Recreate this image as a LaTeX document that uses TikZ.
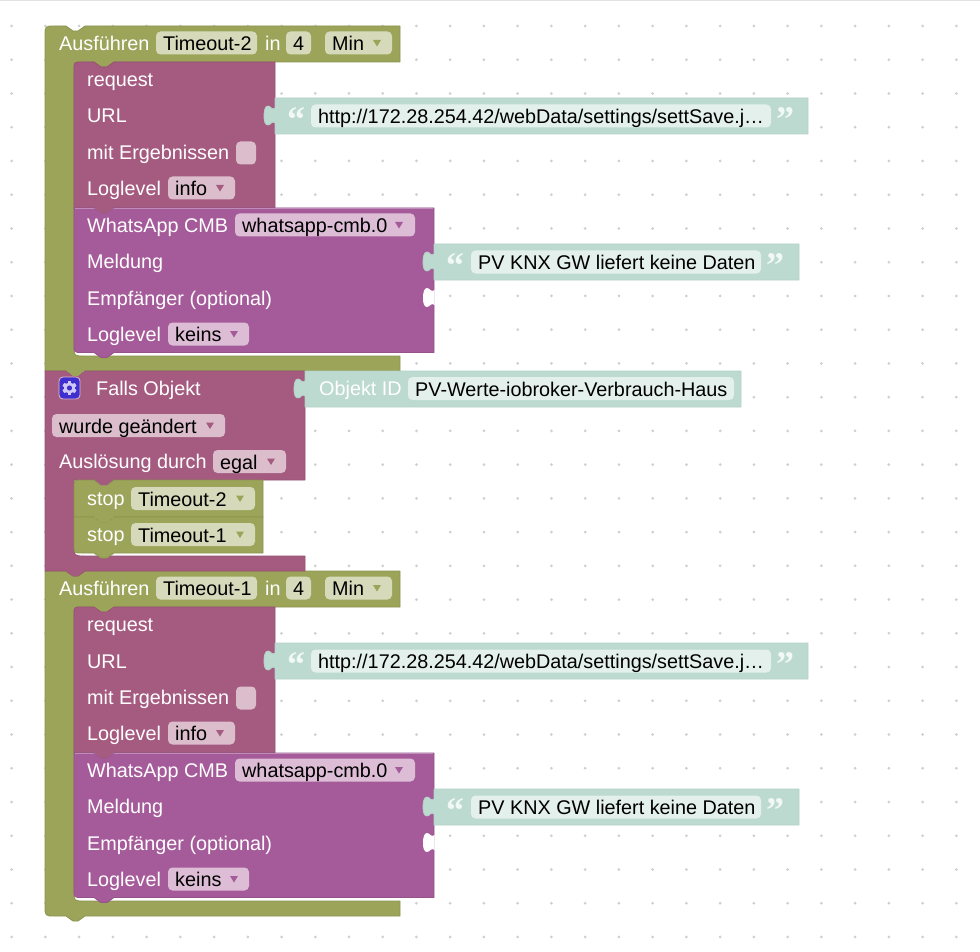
\documentclass[tikz,border=0pt]{standalone}
\usepackage{fontspec}
\setmainfont{Liberation Sans}
\newfontfamily\qfont[BoldFont={Liberation Serif Bold}]{Liberation Serif}
\definecolor{olive}{HTML}{9CA45A}
\definecolor{oliveD}{HTML}{8D9451}
\definecolor{oliveF}{HTML}{D6DABA}
\definecolor{maroon}{HTML}{A55B80}
\definecolor{maroonD}{HTML}{955273}
\definecolor{maroonF}{HTML}{DBBDCC}
\definecolor{purp}{HTML}{A55B99}
\definecolor{purpD}{HTML}{95528A}
\definecolor{purpL}{HTML}{C08CB8}
\definecolor{purpF}{HTML}{DDBDD6}
\definecolor{teal}{HTML}{BDDAD1}
\definecolor{tealD}{HTML}{B4D2C8}
\definecolor{tealF}{HTML}{E4F0EC}
\definecolor{quotec}{HTML}{F2F8F6}
\definecolor{dotc}{HTML}{CFCFCF}
\definecolor{gearb}{HTML}{3F2FD0}
\definecolor{gearf}{HTML}{CFC9F4}
\tikzset{
  lbl/.style={anchor=base west,inner sep=0pt,text=white,font=\fontsize{19.8}{22}\selectfont},
  val/.style={anchor=base west,inner sep=0pt,text=black,font=\fontsize{19.8}{22}\selectfont},
  qm/.style={anchor=base,inner sep=0pt,text=quotec,font=\qfont\bfseries\fontsize{36}{36}\selectfont},
  edge/.style={line width=0.8pt,line join=round}
}
% \fld{name}{x1}{x2}{cy}{fill}{text}
\newcommand{\fld}[6]{%
  \fill[#5,rounded corners=4.5pt] (#2,#4-11.5) rectangle (#3,#4+11.5);
  \node[val] (#1) at (#2+7,#4+7.5) {#6};}
% \dd{x}{cy}{colour}
\newcommand{\dd}[3]{\fill[#3] (#1-4,#2-3) -- (#1+4,#2-3) -- (#1,#2+3.5) -- cycle;}
% teal block body with left tab
\newcommand{\strbody}[3]{%
  \fill[teal,draw=tealD,edge] (#1+11,#3-18) -- (#2,#3-18) -- (#2,#3+18) -- (#1+11,#3+18) -- (#1+11,#3+7)
    .. controls (#1+8,#3+4) and (#1+7,#3+9) .. (#1+4,#3+9)
    .. controls (#1+1,#3+9) and (#1,#3+5) .. (#1,#3)
    .. controls (#1,#3-5) and (#1+1,#3-10) .. (#1+4,#3-10)
    .. controls (#1+7,#3-10) and (#1+8,#3-5) .. (#1+11,#3-8) -- cycle;}
% empty socket on the right edge of a block
\newcommand{\sock}[2]{%
  \fill[white] (#1+11.5,#2+7) 
    .. controls (#1+8,#2+4) and (#1+7,#2+9) .. (#1+4,#2+9)
    .. controls (#1+1,#2+9) and (#1,#2+5) .. (#1,#2)
    .. controls (#1,#2-5) and (#1+1,#2-10) .. (#1+4,#2-10)
    .. controls (#1+7,#2-10) and (#1+8,#2-5) .. (#1+11.5,#2-8) -- cycle;}
% \strblk{name}{tabx}{x2}{cy}{field1}{field2}{text}
\newcommand{\strblk}[7]{%
  \strbody{#2}{#3}{#4}
  \node[qm] (#1q) at (#2+32,#4+15.5) {“};
  \node[qm] (#1c) at (#6+14,#4+15.5) {”};
  \fld{#1}{#5}{#6}{#4}{tealF}{#7}}
% one complete "Ausführen" block content, top at y=0 of the scope
\newcommand{\runblk}[2]{%
  \node[lbl] (aus#2) at (59,24.5) {Ausführen};
  \fld{tim#2}{156}{257}{17}{oliveF}{#1}
  \node[lbl] (in#2) at (265,24.5) {in};
  \fld{num#2}{286}{311}{17}{oliveF}{4}
  \fld{min#2}{325}{392}{17}{oliveF}{Min}
  \dd{377}{17}{olive}
  \fill[maroon,draw=maroonD,edge] (82,36) -- (94,36) -- (101,41) -- (107,41) -- (114,36) -- (275,36) -- (275,182) -- (74,182) -- (74,44) .. controls (74,36) .. (82,36) -- cycle;
  \node[lbl] (req#2) at (87,60.5) {request};
  \node[lbl] (url#2) at (87,97) {URL};
  \node[lbl] (mit#2) at (87,133.5) {mit Ergebnissen};
  \fill[maroonF,rounded corners=4.5pt] (236,115.5) rectangle (256,138.5);
  \node[lbl] (ll#2) at (87,169.5) {Loglevel};
  \fld{info#2}{168}{235}{162}{maroonF}{info}
  \dd{220}{162}{maroon}
  \strblk{u#2}{264}{808}{90}{311}{771}{http://172.28.254.42/webData/settings/settSave.j…}
  \fill[purp,draw=purpD,edge] (74,182) -- (94,182) -- (101,187) -- (107,187) -- (114,182) -- (434,182) -- (434,326.5) -- (114,326.5) -- (107,331.5) -- (101,331.5) -- (94,326.5) -- (82,326.5) .. controls (74,326.5) .. (74,318.5) -- cycle;
  \fill[maroon] (94,181) -- (114,181) -- (107,187) -- (101,187) -- cycle;
  \draw[purpL,line width=1pt] (75,182.5) -- (94,182.5) (114,182.5) -- (433,182.5);
  \sock{423}{272}
  \node[lbl] (wa#2) at (87,206.5) {WhatsApp CMB};
  \fld{cmb#2}{235}{415}{199}{purpF}{whatsapp-cmb.0}
  \dd{399}{199}{purp}
  \node[lbl] (mel#2) at (87,242.5) {Meldung};
  \node[lbl] (emp#2) at (87,279) {Empfänger (optional)};
  \node[lbl] (ltwo#2) at (87,315.5) {Loglevel};
  \fld{keins#2}{168}{249}{308}{purpF}{keins}
  \dd{234}{308}{purp}
  \strblk{m#2}{423}{799}{236}{471}{761}{PV KNX GW liefert keine Daten}
}
\begin{document}
\begin{tikzpicture}[x=1pt,y=-1pt]
\useasboundingbox (0,0) rectangle (980,952);
\fill[white] (0,0) rectangle (980,952);
\fill[dotc!60] (0,0.4) rectangle (980,1.4);
\foreach \i in {0,...,28}{\foreach \j in {0,...,27}{
  \fill[dotc] ({11.6+33.74*\i},{26+33.74*\j}) circle[radius=1.5pt];}}
% olive C blocks
\fill[olive,draw=oliveD,edge] (55,26) -- (66,26) -- (73,31) -- (78,31) -- (85,26) -- (400,26) -- (400,62) -- (114,62) -- (107,67) -- (101,67) -- (94,62) -- (82,62) .. controls (74,62) .. (74,70) -- (74,346.5) .. controls (74,356) .. (84,356) -- (400,356) -- (400,371) -- (45,371) -- (45,36) .. controls (45,26) .. (55,26) -- cycle;
\fill[olive,draw=oliveD,edge] (45,571) -- (66,571) -- (73,576) -- (78,576) -- (85,571) -- (400,571) -- (400,607) -- (114,607) -- (107,612) -- (101,612) -- (94,607) -- (82,607) .. controls (74,607) .. (74,615) -- (74,891.5) .. controls (74,901) .. (84,901) -- (400,901) -- (400,916) -- (85,916) -- (78,921) -- (73,921) -- (66,916) -- (55,916) .. controls (45,916) .. (45,906) -- cycle;
\begin{scope}[shift={(0,26)}]\runblk{Timeout-2}{a}\end{scope}
\begin{scope}[shift={(0,571)}]\runblk{Timeout-1}{b}\end{scope}
% Falls Objekt
\fill[maroon,draw=maroonD,edge] (45,371) -- (66,371) -- (73,376) -- (78,376) -- (85,371) -- (305,371) -- (305,480) -- (114,480) -- (107,485) -- (101,485) -- (94,480) -- (74,480) -- (74,545) .. controls (74,556) .. (85,556) -- (305,556) -- (305,571) -- (85,571) -- (78,576) -- (73,576) -- (66,571) -- (45,571) -- cycle;
\fill[olive] (66,370) -- (85,370) -- (78,376) -- (73,376) -- cycle;
\fill[maroon] (66,570) -- (85,570) -- (78,576) -- (73,576) -- cycle;
% gear button
\fill[gearb,draw=maroonF,line width=0.8pt,rounded corners=4pt] (59,377) rectangle (80,399);
\foreach \a in {0,60,...,300}{\fill[gearf,rotate around={\a:(69.5,388)}] (67.8,381) rectangle (71.2,395);}
\fill[gearf] (69.5,388) circle[radius=5.6pt];
\fill[gearb] (69.5,388) circle[radius=2.6pt];
\node[lbl] (falls) at (96,395) {Falls Objekt};
\fld{wurde}{52}{225}{425.5}{maroonF}{wurde geändert}
\dd{210}{425.5}{maroon}
\node[lbl] (ausl) at (59,468) {Auslösung durch};
\fld{egal}{213}{286}{461.5}{maroonF}{egal}
\dd{271}{461.5}{maroon}
% Objekt ID
\strbody{294}{741}{389}
\node[lbl] (objlab) at (319,395) {Objekt ID};
\fld{objid}{408}{734}{388.5}{tealF}{PV-Werte-iobroker-Verbrauch-Haus}
% stop blocks
\fill[olive,draw=oliveD,edge] (82,480) -- (94,480) -- (101,485) -- (107,485) -- (114,480) -- (263,480) -- (263,517) -- (74,517) -- (74,488) .. controls (74,480) .. (82,480) -- cycle;
\fill[maroon] (94,479) -- (114,479) -- (107,485) -- (101,485) -- cycle;
\fill[olive,draw=oliveD,edge] (74,517) -- (94,517) -- (101,522) -- (107,522) -- (114,517) -- (263,517) -- (263,553) -- (114,553) -- (107,558) -- (101,558) -- (94,553) -- (82,553) .. controls (74,553) .. (74,545) -- cycle;
\fill[olive] (94,516) -- (114,516) -- (107,522) -- (101,522) -- cycle;
\node[lbl] (stopa) at (87,505) {stop};
\fld{sta}{131}{255}{498.5}{oliveF}{Timeout-2}
\dd{240}{498.5}{olive}
\node[lbl] (stopb) at (87,541) {stop};
\fld{stb}{131}{255}{534.5}{oliveF}{Timeout-1}
\dd{240}{534.5}{olive}
\end{tikzpicture}
\end{document}
